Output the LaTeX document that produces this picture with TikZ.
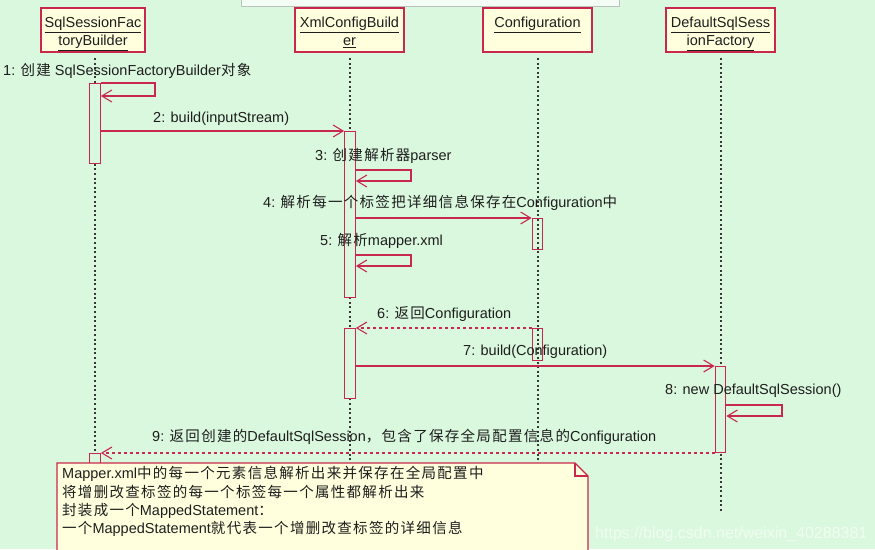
\documentclass[tikz,border=0pt]{standalone}
\usepackage{fontspec}
\setmainfont{Liberation Sans}
\newfontfamily\cjk[LetterSpace=9]{Noto Sans CJK SC}
\newcommand\zh[1]{{\cjk #1}}
\usetikzlibrary{arrows.meta}
\definecolor{bg}{RGB}{218,248,222}
\definecolor{noteyel}{RGB}{255,255,221}
\definecolor{crim}{RGB}{200,40,75}
\definecolor{txt}{RGB}{30,30,30}
\definecolor{lifegray}{RGB}{55,55,55}
\definecolor{topwhite}{RGB}{244,252,246}
\definecolor{topgray}{RGB}{185,195,188}
\tikzset{
  obj/.style={draw=crim, fill=noteyel, line width=1.2pt, minimum width=109pt,
    minimum height=44pt, inner sep=0pt},
  hdr/.style={anchor=base, inner sep=0pt, text=txt, font=\fontsize{14.5}{18}\selectfont},
  act/.style={draw=crim, line width=1.2pt, minimum width=10.5pt, inner sep=0pt},
  life/.style={draw=lifegray, line width=1.2pt, dash pattern=on 2pt off 2.6pt},
  msg/.style={draw=crim, line width=1.1pt, -{Straight Barb[length=10pt,width=12pt]}},
  ret/.style={msg, dash pattern=on 3pt off 3pt},
  lbl/.style={anchor=base west, inner sep=0pt, text=txt, font=\fontsize{14.5}{18}\selectfont},
}
\begin{document}
\begin{tikzpicture}[x=1pt,y=-1pt]
\useasboundingbox (0,0) rectangle (875,549);
\fill[bg] (0,0) rectangle (875,549);
\draw[draw=topgray, fill=topwhite, line width=1pt] (241,-3) rectangle (619,6);

% objects
\node[obj, minimum width=104pt] (o1) at (93,30) {};
\node[hdr] (o1a) at (93,27.5) {\underline{SqlSessionFac}};
\node[hdr] (o1b) at (93,45.5) {\underline{toryBuilder}};
\node[obj] (o2) at (349.5,30) {};
\node[hdr] (o2a) at (349.5,27.5) {\underline{XmlConfigBuild}};
\node[hdr] (o2b) at (349.5,45.5) {\underline{er}};
\node[obj] (o3) at (537.5,30) {};
\node[hdr] (o3a) at (537.5,27.5) {\underline{Configuration}};
\node[obj] (o4) at (720.5,30) {};
\node[hdr] (o4a) at (720.5,27.5) {\underline{DefaultSqlSess}};
\node[hdr] (o4b) at (720.5,45.5) {\underline{ionFactory}};

% lifelines
\coordinate (t1) at (95,58);    \coordinate (b1) at (95,549);
\coordinate (t2) at (350,58);   \coordinate (b2) at (350,549);
\coordinate (t3) at (538,58);   \coordinate (b3) at (538,549);
\coordinate (t4) at (721,58);   \coordinate (b4) at (721,513);
\draw[life] (t1) -- (b1);
\draw[life] (t2) -- (b2);
\draw[life] (t3) -- (b3);
\draw[life] (t4) -- (b4);

% activations
\node[act, fill=bg, minimum height=80pt, anchor=north] (a1) at (95,83) {};
\node[act, fill=bg, minimum height=166pt, anchor=north] (a2) at (350,131) {};
\node[act, minimum height=31pt, anchor=north] (a3) at (537.5,218) {};
\node[act, fill=bg, minimum height=70pt, anchor=north] (a4) at (350,328) {};
\node[act, minimum height=32pt, anchor=north] (a5) at (537.5,328) {};
\node[act, fill=bg, minimum height=86pt, anchor=north] (a6) at (720.5,366) {};
\node[act, fill=bg, minimum height=25pt, anchor=north] (a7) at (95,453) {};

% messages
\coordinate (s1a) at (155,83);  \coordinate (s1b) at (155,96);
\draw[msg] (a1.north east) -- (s1a) -- (s1b) -- (a1.east |- s1b);

\draw[msg] (a1.east |- a2.north) -- (a2.north west);

\coordinate (s3a) at (411,170); \coordinate (s3b) at (411,181);
\draw[msg] (a2.east |- s3a) -- (s3a) -- (s3b) -- (a2.east |- s3b);

\draw[msg] (a2.east |- a3.north) -- (a3.north west);

\coordinate (s5a) at (411,255); \coordinate (s5b) at (411,266);
\draw[msg] (a2.east |- s5a) -- (s5a) -- (s5b) -- (a2.east |- s5b);

\draw[ret] (a5.north west) -- (a4.north east);

\draw[msg] (a4.east |- a6.north) -- (a6.north west);

\coordinate (s8a) at (782,405); \coordinate (s8b) at (782,416);
\draw[msg] (a6.east |- s8a) -- (s8a) -- (s8b) -- (a6.east |- s8b);

\draw[ret] (a6.west |- a7.north) -- (a7.north east);

% labels
\node[lbl] (l1) at (3,75) {1: \zh{创建} SqlSessionFactoryBuilder\zh{对象}};
\node[lbl] (l2) at (153,122) {2: build(inputStream)};
\node[lbl] (l3) at (315,160) {3: \zh{创建解析器}parser};
\node[lbl] (l4) at (263,207) {4: \zh{解析每一个标签把详细信息保存在}Configuration\zh{中}};
\node[lbl] (l5) at (320,245) {5: \zh{解析}mapper.xml};
\node[lbl] (l6) at (377,318) {6: \zh{返回}Configuration};
\node[lbl] (l7) at (463,355) {7: build(Configuration)};
\node[lbl] (l8) at (665,394) {8: new DefaultSqlSession()};
\node[lbl] (l9) at (152,441) {9: \zh{返回创建的}DefaultSqlSession\zh{，包含了保存全局配置信息的}Configuration};

% note
\draw[draw=crim, fill=noteyel, line width=1.2pt] (57,463) -- (575,463) -- (588,476) -- (588,555) -- (57,555) -- cycle;
\draw[draw=crim, line width=1.2pt] (575,463) -- (575,476) -- (588,476);
\node[lbl] (n1) at (62,478) {Mapper.xml\zh{中的每一个元素信息解析出来并保存在全局配置中}};
\node[lbl] (n2) at (62,497) {\zh{将增删改查标签的每一个标签每一个属性都解析出来}};
\node[lbl] (n3) at (62,515) {\zh{封装成一个}MappedStatement\zh{：}};
\node[lbl] (n4) at (62,533) {\zh{一个}MappedStatement\zh{就代表一个增删改查标签的详细信息}};

% watermark
\node[anchor=base west, inner sep=0pt, text=white, text opacity=0.6,
  font=\fontsize{16}{16}\selectfont] (wm) at (595,538) {https://blog.csdn.net/weixin\_40288381};
\end{tikzpicture}
\end{document}
